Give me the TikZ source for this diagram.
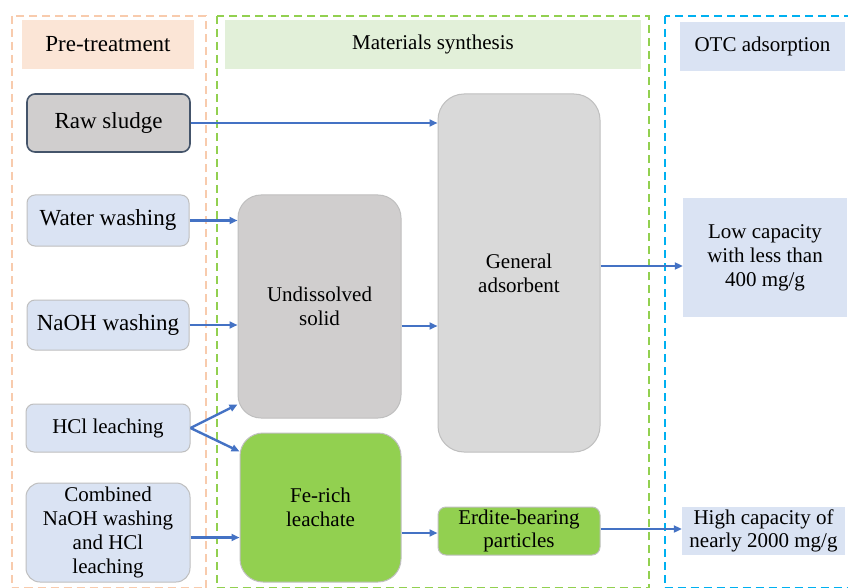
\documentclass[tikz,border=0pt]{standalone}
\usepackage{fontspec}
\setmainfont{Liberation Serif}
\usetikzlibrary{arrows.meta,calc}
\definecolor{framepeach}{HTML}{F8CBAD}
\definecolor{framegreen}{HTML}{92D050}
\definecolor{frameblue}{HTML}{00B0F0}
\definecolor{hdrpeach}{HTML}{FBE5D6}
\definecolor{hdrgreen}{HTML}{E2F0D9}
\definecolor{paleblue}{HTML}{DAE3F3}
\definecolor{greyA}{HTML}{D0CECE}
\definecolor{greyB}{HTML}{D9D9D9}
\definecolor{leafgreen}{HTML}{92D050}
\definecolor{slate}{HTML}{44546A}
\definecolor{arrowblue}{HTML}{4472C4}
\definecolor{thinborder}{HTML}{BFBFBF}
\begin{document}
\begin{tikzpicture}[x=1pt,y=-1pt,
  frame/.style={line width=2.8pt,dash pattern=on 8pt off 5pt},
  hdr/.style={rectangle,inner sep=0pt,align=center,font=\rmfamily\fontsize{21}{24}\selectfont},
  bigtxt/.style={font=\rmfamily\fontsize{23}{26}\selectfont},
  box/.style={rectangle,rounded corners=8pt,draw=thinborder,line width=1pt,inner sep=0pt,align=center,font=\rmfamily\fontsize{21}{24}\selectfont},
  bigbox/.style={box,rounded corners=23pt},
  flow/.style={draw=arrowblue,line width=2.4pt,-{Triangle[length=8pt,width=7pt]}}
]
\useasboundingbox (0,0) rectangle (848,588);
\fill[white] (0,0) rectangle (848,588);
% frames
\draw[frame,draw=framepeach] (12,16) rectangle (206,588.5);
\draw[frame,draw=framegreen] (217,16) rectangle (649,588.5);
\draw[frame,draw=frameblue] (665,16) rectangle (862,588.5);
% headers
\node[hdr,fill=hdrpeach,minimum width=172pt,minimum height=49pt,bigtxt] (hpre) at (108,44.5) {Pre-treatment};
\node[hdr,fill=hdrgreen,minimum width=416pt,minimum height=49pt] (hmat) at (433,44.5) {Materials synthesis};
\node[hdr,fill=paleblue,minimum width=165pt,minimum height=49pt] (hotc) at (762.5,46.5) {OTC adsorption};
% left column
\node[box,fill=greyA,draw=slate,line width=1.6pt,minimum width=163pt,minimum height=58pt,bigtxt] (raw) at (108.5,123) {Raw sludge};
\node[box,fill=paleblue,minimum width=162pt,minimum height=51pt,bigtxt] (water) at (108,220.5) {Water washing};
\node[box,fill=paleblue,minimum width=162pt,minimum height=50pt,bigtxt] (naoh) at (108,325) {NaOH washing};
\node[box,fill=paleblue,minimum width=164pt,minimum height=48pt] (hcl) at (108,428) {HCl leaching};
\node[box,fill=paleblue,rounded corners=14pt,minimum width=164pt,minimum height=99pt] (comb) at (108,532.5) {Combined\\NaOH washing\\and HCl\\leaching};
% middle
\node[bigbox,fill=greyA,minimum width=163pt,minimum height=223pt] (undis) at (319.5,306.5) {Undissolved\\solid};
\node[bigbox,fill=leafgreen,minimum width=161pt,minimum height=149pt] (fe) at (320.5,507.5) {Fe-rich\\leachate};
\node[bigbox,rounded corners=26pt,fill=greyB,minimum width=162pt,minimum height=358pt] (gen) at (519,273) {General\\adsorbent};
\node[box,fill=leafgreen,font=\rmfamily\fontsize{21}{23}\selectfont,minimum width=162pt,minimum height=48pt] (erd) at (519,531) {Erdite-bearing\\particles};
% right
\node[hdr,fill=paleblue,minimum width=164pt,minimum height=119pt] (low) at (765,257.5) {Low capacity\\with less than\\400 mg/g};
\node[hdr,fill=paleblue,font=\rmfamily\fontsize{21}{23}\selectfont,minimum width=163pt,minimum height=48pt] (high) at (763.5,531) {High capacity of\\nearly 2000 mg/g};
% helper coordinates
\coordinate (hclA) at ([yshift=14pt]undis.south west);
\coordinate (hclB) at ([yshift=-19pt]fe.north west);
\coordinate (combS) at ([yshift=-5pt]comb.east);
\coordinate (undS) at ([yshift=-19.5pt]undis.east);
\coordinate (genS) at ([yshift=7pt]gen.east);
\coordinate (erdIn) at ([yshift=-2pt]erd.west);
\coordinate (erdOut) at ([yshift=2pt]erd.east);
% connectors
\draw[flow] (raw.east) -- (gen.west |- raw.east);
\draw[flow] (water.east) -- (undis.west |- water.east);
\draw[flow] (naoh.east) -- (undis.west |- naoh.east);
\draw[flow] (hcl.east) -- (hclA);
\draw[flow] (hcl.east) -- (hclB);
\draw[flow] (combS) -- (fe.west |- combS);
\draw[flow] (undS) -- (gen.west |- undS);
\draw[flow] (genS) -- (low.west |- genS);
\draw[flow] (fe.east |- erdIn) -- (erdIn);
\draw[flow] (erdOut) -- (high.west |- erdOut);
\end{tikzpicture}
\end{document}
